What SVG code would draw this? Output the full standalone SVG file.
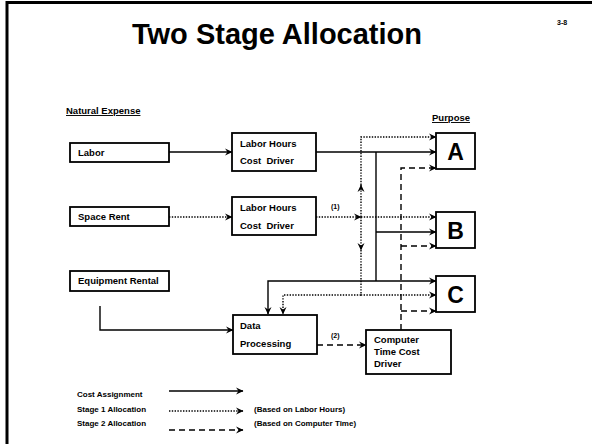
<svg xmlns="http://www.w3.org/2000/svg" width="592" height="444" viewBox="0 0 592 444">
<style>
text{font-family:"Liberation Sans",Arial,sans-serif;font-weight:bold;fill:#000}
.box{fill:#fff;stroke:#000;stroke-width:1.8}
.t{font-size:9.5px}
.s{font-size:8px}
.big{font-size:23px}
.ln{fill:none;stroke:#000;stroke-width:1.4}
.dot{stroke-dasharray:1.4 1.4}
.dash{stroke-dasharray:6 4}
</style>
<defs>
<marker id="ah" markerWidth="8" markerHeight="8" refX="7" refY="4" orient="auto" markerUnits="userSpaceOnUse">
<path d="M0,0.5 L7.5,4 L0,7.5 L2.5,4 z" fill="#000"/>
</marker>
</defs>
<rect width="592" height="444" fill="#fff"/>
<path d="M7,444 V2.5 H592" fill="none" stroke="#000" stroke-width="3"/>
<text x="277" y="44" font-size="29" text-anchor="middle">Two Stage Allocation</text>
<text x="557" y="25" font-size="7">3-8</text>
<text x="66" y="114" class="t" text-decoration="underline">Natural Expense</text>
<text x="432" y="121" class="t" text-decoration="underline">Purpose</text>

<g id="connectors">
<path class="ln" d="M169,152 H232" marker-end="url(#ah)"/>
<path class="ln" d="M316,152 H436" marker-end="url(#ah)"/>
<path class="ln" d="M376,152 V281"/>
<path class="ln" d="M376,232 H436" marker-end="url(#ah)"/>
<path class="ln" d="M376,281 H436" marker-end="url(#ah)"/>
<path class="ln" d="M376,281 H268 V314" marker-end="url(#ah)"/>
<path class="ln" d="M100,306 V330 H233" marker-end="url(#ah)"/>
<path class="ln dot" d="M169,217 H232" marker-end="url(#ah)"/>
<path class="ln dot" d="M316,217 H361" marker-end="url(#ah)"/>
<path class="ln dot" d="M361,217 H436" marker-end="url(#ah)"/>
<path class="ln dot" d="M361,217 V185" marker-end="url(#ah)"/>
<path class="ln dot" d="M361,185 V137 H436" marker-end="url(#ah)"/>
<path class="ln dot" d="M361,217 V250" marker-end="url(#ah)"/>
<path class="ln dot" d="M361,250 V295 H436" marker-end="url(#ah)"/>
<path class="ln dot" d="M361,295 H283 V314" marker-end="url(#ah)"/>
<path class="ln dash" d="M317,345 H366" marker-end="url(#ah)"/>
<path class="ln dash" d="M401,330 V168 H436" marker-end="url(#ah)"/>
<path class="ln dash" d="M401,246 H436" marker-end="url(#ah)"/>
<path class="ln dash" d="M401,311 H436" marker-end="url(#ah)"/>
<text x="331" y="209" font-size="7">(1)</text>
<text x="331" y="338" font-size="7">(2)</text>
</g>

<g id="labor"><rect class="box" x="70" y="143" width="99" height="19"/><text class="t" x="78" y="156">Labor</text></g>
<g id="space-rent"><rect class="box" x="70" y="207" width="99" height="19"/><text class="t" x="78" y="220">Space Rent</text></g>
<g id="equipment-rental"><rect class="box" x="70" y="271" width="99" height="20"/><text class="t" x="78" y="284">Equipment Rental</text></g>
<g id="lh1"><rect class="box" x="232" y="133" width="84" height="38"/><text class="t" x="240" y="147">Labor Hours</text><text class="t" x="240" y="164" xml:space="preserve">Cost  Driver</text></g>
<g id="lh2"><rect class="box" x="232" y="197" width="84" height="38"/><text class="t" x="240" y="211">Labor Hours</text><text class="t" x="240" y="229" xml:space="preserve">Cost  Driver</text></g>
<g id="data-processing"><rect class="box" x="233" y="315" width="84" height="39"/><text class="t" x="240" y="329">Data</text><text class="t" x="240" y="347">Processing</text></g>
<g id="computer-time"><rect class="box" x="366" y="330" width="85" height="44"/><text class="t" x="374" y="343">Computer</text><text class="t" x="374" y="355">Time Cost</text><text class="t" x="374" y="367">Driver</text></g>
<g id="A"><rect class="box" x="436" y="133" width="39" height="36"/><text class="big" x="455.5" y="159.5" text-anchor="middle">A</text></g>
<g id="B"><rect class="box" x="436" y="212" width="39" height="36"/><text class="big" x="455.5" y="238.5" text-anchor="middle">B</text></g>
<g id="C"><rect class="box" x="436" y="276" width="39" height="36"/><text class="big" x="455.5" y="302.5" text-anchor="middle">C</text></g>

<g id="legend">
<text class="s" x="77" y="397">Cost Assignment</text>
<text class="s" x="77" y="412">Stage 1 Allocation</text>
<text class="s" x="77" y="426">Stage 2 Allocation</text>
<path class="ln" d="M169,391 H243" marker-end="url(#ah)"/>
<path class="ln dot" d="M169,411 H243" marker-end="url(#ah)"/>
<path class="ln dash" d="M169,430 H243" marker-end="url(#ah)"/>
<text class="s" x="254" y="412">(Based on Labor Hours)</text>
<text class="s" x="254" y="426">(Based on Computer Time)</text>
</g>
</svg>
